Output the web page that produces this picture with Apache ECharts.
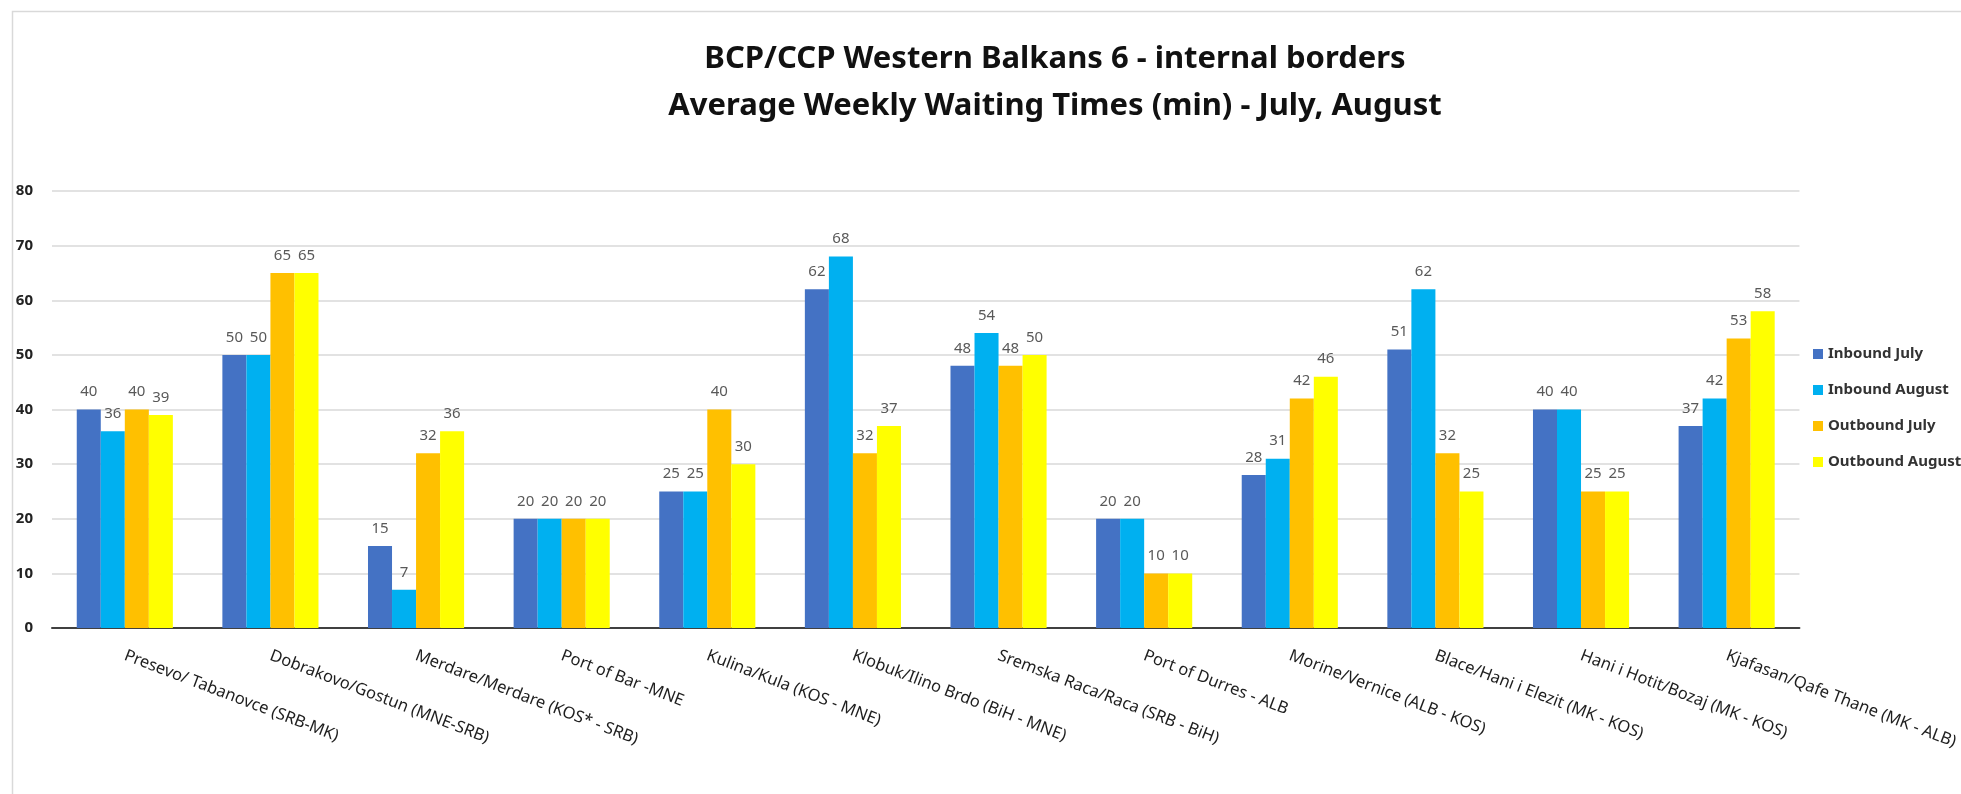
<!DOCTYPE html>
<html>
<head>
<meta charset="utf-8">
<script src="https://cdn.jsdelivr.net/npm/echarts@6/dist/echarts.min.js"></script>
<style>html,body{margin:0;padding:0;background:#fff;}#c{width:1961px;height:794px;}</style>
</head>
<body>
<div id="c"></div>
<script>
const categories = [
  'Presevo/ Tabanovce (SRB-MK)',
  'Dobrakovo/Gostun (MNE-SRB)',
  'Merdare/Merdare (KOS* - SRB)',
  'Port of Bar -MNE',
  'Kulina/Kula (KOS - MNE)',
  'Klobuk/Ilino Brdo (BiH - MNE)',
  'Sremska Raca/Raca (SRB - BiH)',
  'Port of Durres - ALB',
  'Morine/Vernice (ALB - KOS)',
  'Blace/Hani i Elezit (MK - KOS)',
  'Hani i Hotit/Bozaj (MK - KOS)',
  'Kjafasan/Qafe Thane (MK - ALB)'
];
const seriesNames = ['Inbound July', 'Inbound August', 'Outbound July', 'Outbound August'];
const inboundJuly     = [40, 50, 15, 20, 25, 62, 48, 20, 28, 51, 40, 37];
const inboundAugust   = [36, 50, 7, 20, 25, 68, 54, 20, 31, 62, 40, 42];
const outboundJuly    = [40, 65, 32, 20, 40, 32, 48, 10, 42, 32, 25, 53];
const outboundAugust  = [39, 65, 36, 20, 30, 37, 50, 10, 46, 25, 25, 58];
const titleLines = ['BCP/CCP Western Balkans 6 - internal borders', 'Average Weekly Waiting Times (min) - July, August'];

const colors = ['#4472C4', '#00B0F0', '#FFC000', '#FFFF00'];
const dataSets = [inboundJuly, inboundAugust, outboundJuly, outboundAugust];
const FONT = '"Noto Sans", "Open Sans", sans-serif';

const chart = echarts.init(document.getElementById('c'));
chart.setOption({
  animation: false,
  backgroundColor: '#fff',
  color: colors,
  graphic: [{
    type: 'rect', left: 10, top: 9, silent: true,
    shape: { width: 1960, height: 800 },
    style: { fill: 'none', stroke: '#d9d9d9', lineWidth: 1.5 }
  }],
  title: {
    text: titleLines.join('\n'),
    left: 1050, top: 31, textAlign: 'center',
    textStyle: { fontFamily: FONT, fontSize: 31, fontWeight: 'bold', color: '#111', lineHeight: 47 }
  },
  legend: {
    orient: 'vertical', left: 1808, top: 340,
    itemWidth: 10, itemHeight: 10, itemGap: 18,
    icon: 'rect',
    data: seriesNames,
    textStyle: { fontFamily: FONT, fontSize: 15, fontWeight: 'bold', color: '#333', lineHeight: 18 }
  },
  grid: { left: 52, right: 159, top: 191, bottom: 166, containLabel: false },
  xAxis: {
    type: 'category',
    data: categories,
    axisTick: { show: false },
    axisLine: { lineStyle: { color: '#404040', width: 2 } },
    axisLabel: {
      interval: 0, rotate: -21, margin: 27,
      fontFamily: FONT, fontSize: 16.5, color: '#1e1e1e'
    }
  },
  yAxis: {
    type: 'value', min: 0, max: 80, interval: 10,
    axisLine: { show: false },
    axisTick: { show: false },
    splitLine: { lineStyle: { color: '#d9d9d9', width: 1.5 } },
    axisLabel: { margin: 19, fontFamily: FONT, fontSize: 15, fontWeight: 'bold', color: '#222' }
  },
  series: seriesNames.map((name, i) => ({
    name: name,
    type: 'bar',
    data: dataSets[i],
    barGap: '0%',
    barCategoryGap: '34%',
    itemStyle: { color: colors[i] },
    label: {
      show: true, position: 'top', distance: 10,
      fontFamily: FONT, fontSize: 15, color: '#595959'
    }
  }))
});
</script>
</body>
</html>
